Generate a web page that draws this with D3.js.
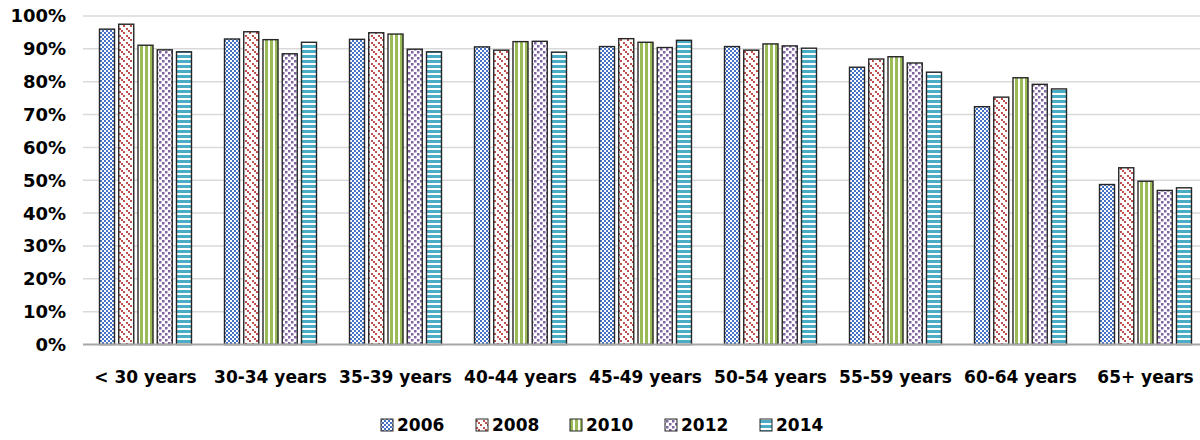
<!DOCTYPE html>
<html><head><meta charset="utf-8">
<script src="https://cdn.jsdelivr.net/npm/d3@7"></script>
<style>
html,body{margin:0;padding:0;background:#fff;}
svg{display:block;}
text{font-family:"DejaVu Sans",sans-serif;font-weight:bold;fill:#000;}
</style></head>
<body><svg id="chart" width="1200" height="440"></svg>
<script>
const categories = ["< 30 years","30-34 years","35-39 years","40-44 years","45-49 years","50-54 years","55-59 years","60-64 years","65+ years"];
const seriesNames = ["2006","2008","2010","2012","2014"];
const v2006 = [96.0, 93.0, 92.9, 90.6, 90.7, 90.7, 84.4, 72.4, 48.7];
const v2008 = [97.5, 95.2, 94.9, 89.6, 93.1, 89.6, 86.9, 75.3, 53.8];
const v2010 = [91.1, 92.8, 94.5, 92.2, 92.0, 91.5, 87.6, 81.2, 49.7];
const v2012 = [89.7, 88.5, 89.9, 92.3, 90.4, 90.9, 85.7, 79.2, 46.9];
const v2014 = [89.1, 92.0, 89.1, 89.0, 92.6, 90.2, 82.9, 77.8, 47.7];
const yTicks = [0,10,20,30,40,50,60,70,80,90,100];
const seriesValues = [v2006, v2008, v2010, v2012, v2014];
const colors = ["#4472C4","#C0504D","#9BBB59","#8064A2","#4BACC6"];

const svg = d3.select("#chart");
const defs = svg.append("defs");

function pat(id, w, h){ const p = defs.append("pattern").attr("id",id).attr("patternUnits","userSpaceOnUse").attr("width",w).attr("height",h); p.append("rect").attr("width",w).attr("height",h).attr("fill","#fff"); return p; }
function sq(p,x,y,w,h,c){ p.append("rect").attr("x",x).attr("y",y).attr("width",w).attr("height",h).attr("fill",c); }
let p;
p = pat("p0",4,4); sq(p,0,0,2,2,colors[0]); sq(p,2,2,2,2,colors[0]);
p = pat("p1",7,7); [[0,0],[2,2],[4,4]].forEach(([x,y])=>sq(p,x,y,2,2,colors[1]));
p = pat("p2",5,5); sq(p,0,0,3,5,colors[2]);
p = pat("p3",6,6); sq(p,0,0,2.5,2.5,colors[3]); sq(p,3,3,2.5,2.5,colors[3]);
p = pat("p4",5,5); sq(p,0,0,5,3,colors[4]);

const x0 = d3.scaleBand().domain(categories).range([83, 1208]).paddingInner(0).paddingOuter(0);
const x1 = d3.scaleBand().domain(seriesNames).range([16.5, 108.5]).paddingInner(0.22).paddingOuter(0);
const y = d3.scaleLinear().domain([0,100]).range([344.5, 16]);

svg.append("g").selectAll("line").data(yTicks.filter(t=>t>0)).join("line")
  .attr("x1",83).attr("x2",1200).attr("y1",d=>y(d)).attr("y2",d=>y(d))
  .attr("stroke","#d9d9d9").attr("stroke-width",1.5);

svg.append("g").selectAll("text").data(yTicks).join("text")
  .attr("x",66).attr("y",d=>y(d)).attr("dy","0.36em").attr("text-anchor","end")
  .attr("font-size",18).text(d=>d+"%");

const g = svg.append("g");
categories.forEach((c,ci)=>{
  seriesNames.forEach((s,si)=>{
    const v = seriesValues[si][ci];
    g.append("rect")
      .attr("x", x0(c)+x1(s)).attr("width", x1.bandwidth())
      .attr("y", y(v)).attr("height", y(0)-y(v))
      .attr("fill", `url(#p${si})`).attr("stroke","#262626").attr("stroke-width",1.4);
  });
});

svg.append("line").attr("x1",83).attr("x2",1200).attr("y1",y(0)).attr("y2",y(0)).attr("stroke","#a6a6a6").attr("stroke-width",1.8);

svg.append("g").selectAll("text").data(categories).join("text")
  .attr("x",d=>x0(d)+x0.bandwidth()/2).attr("y",383).attr("text-anchor","middle")
  .attr("font-size",17).text(d=>d);

const legendX = [381, 476, 570, 665, 760];
const lg = svg.append("g");
seriesNames.forEach((s,i)=>{
  lg.append("rect").attr("x",legendX[i]).attr("y",419).attr("width",12).attr("height",12)
    .attr("fill",`url(#p${i})`).attr("stroke","#262626").attr("stroke-width",1);
  lg.append("text").attr("x",legendX[i]+16).attr("y",431).attr("font-size",17).text(s);
});
</script></body></html>
